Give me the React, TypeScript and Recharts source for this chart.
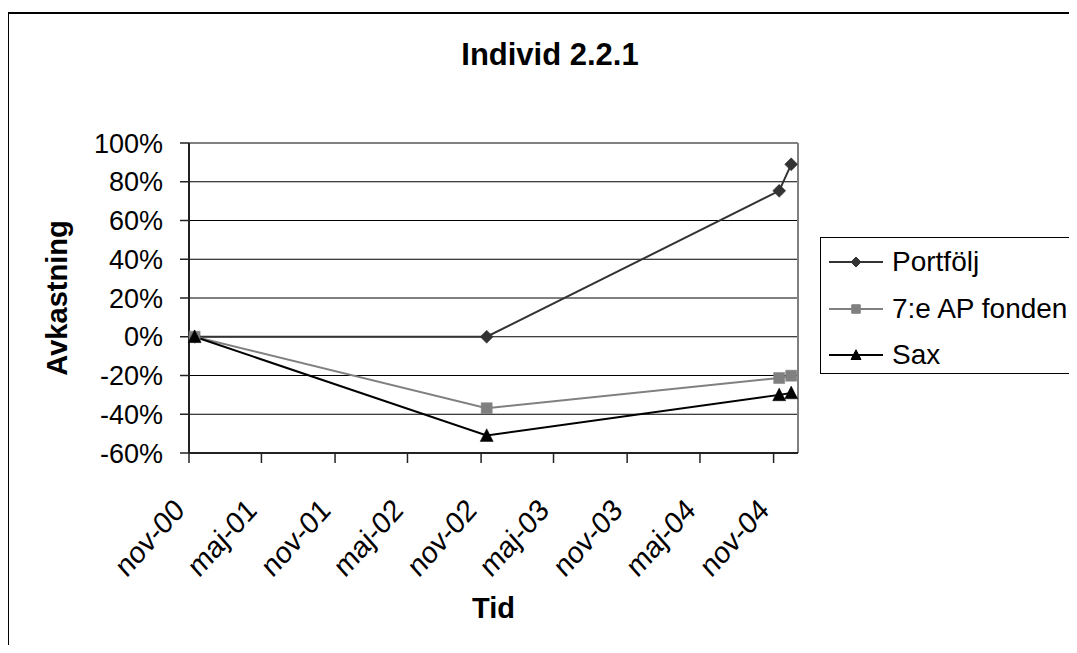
import React from 'react';
import { LineChart, Line, XAxis, YAxis, CartesianGrid, Legend, ReferenceLine } from 'recharts';

const FONT = '"Liberation Sans", Arial, Helvetica, sans-serif';

// Observation dates and series values (returns as fractions)
const DATES = ['2000-11-15', '2002-11-15', '2004-11-15', '2004-12-15'];
const PORTFOLJ = [0, 0, 0.753, 0.89];
const AP7 = [0, -0.369, -0.213, -0.201];
const SAX = [0, -0.51, -0.3, -0.29];

// Axis ticks
const TICK_DATES = [
  '2000-11-01', '2001-05-01', '2001-11-01', '2002-05-01', '2002-11-01',
  '2003-05-01', '2003-11-01', '2004-05-01', '2004-11-01',
];
const TICK_LABELS = ['nov-00', 'maj-01', 'nov-01', 'maj-02', 'nov-02', 'maj-03', 'nov-03', 'maj-04', 'nov-04'];
const X_RANGE = ['2000-11-01', '2005-01-01'];
const Y_TICKS = [-0.6, -0.4, -0.2, 0, 0.2, 0.4, 0.6, 0.8, 1.0];

const SERIES_NAMES = ['Portfölj', '7:e AP fonden', 'Sax'];
const SERIES_KEYS = ['portfolj', 'ap7', 'sax'];
const SERIES_COLORS = ['#333333', '#808080', '#000000'];
const SERIES_MARKERS = ['diamond', 'square', 'triangle'];

const TITLE = 'Individ 2.2.1';
const X_TITLE = 'Tid';
const Y_TITLE = 'Avkastning';

const data = DATES.map((d, i) => ({
  t: Date.parse(d),
  portfolj: PORTFOLJ[i],
  ap7: AP7[i],
  sax: SAX[i],
}));
const tickValues = TICK_DATES.map((d) => Date.parse(d));
const xDomain = X_RANGE.map((d) => Date.parse(d));

function markerPath(kind: string, cx: number, cy: number, s: number) {
  if (kind === 'diamond') {
    return `M${cx},${cy - s}L${cx + s},${cy}L${cx},${cy + s}L${cx - s},${cy}Z`;
  }
  if (kind === 'square') {
    const h = s * 0.85;
    return `M${cx - h},${cy - h}H${cx + h}V${cy + h}H${cx - h}Z`;
  }
  return `M${cx},${cy - s * 1.05}L${cx + s},${cy + s * 0.9}L${cx - s},${cy + s * 0.9}Z`;
}

function makeDot(kind: string, color: string, size: number) {
  return (props: any) => {
    const { cx, cy, index } = props;
    if (cx == null || cy == null) return <g key={`e-${kind}-${index}`} />;
    return <path key={`${kind}-${index}`} d={markerPath(kind, cx, cy, size)} fill={color} stroke={color} strokeWidth={0.5} />;
  };
}

const XTick = (props: any) => {
  const { x, y, payload } = props;
  const idx = tickValues.indexOf(payload.value);
  const label = idx >= 0 ? TICK_LABELS[idx] : '';
  return (
    <g transform={`translate(${x - 3},${y + 49}) scale(1,1.12) rotate(-45)`}>
      <text x={0} y={0} textAnchor="end" fontSize={27.5} fontFamily={FONT} fill="#000">
        {label}
      </text>
    </g>
  );
};

const LegendBox = () => (
  <div
    style={{
      border: '1px solid #000',
      background: '#fff',
      width: 270,
      height: 137,
      boxSizing: 'border-box',
      paddingTop: 1,
      fontFamily: FONT,
    }}
  >
    {SERIES_NAMES.map((name, i) => (
      <div key={name} style={{ display: 'flex', alignItems: 'center', height: 46.5 }}>
        <svg width={54} height={20} style={{ marginLeft: 8, flex: 'none' }}>
          <line x1={0} y1={10} x2={54} y2={10} stroke={SERIES_COLORS[i]} strokeWidth={2} />
          <path d={markerPath(SERIES_MARKERS[i], 27, 10, 5)} fill={SERIES_COLORS[i]} stroke={SERIES_COLORS[i]} />
        </svg>
        <span style={{ marginLeft: 9, fontSize: 28, lineHeight: '28px', color: '#000', whiteSpace: 'nowrap' }}>{name}</span>
      </div>
    ))}
  </div>
);

export default function App() {
  return (
    <div style={{ position: 'relative', width: 1069, height: 637, overflow: 'hidden', background: '#fff' }}>
      <div
        style={{
          position: 'absolute',
          left: -1,
          top: 4,
          width: 1200,
          height: 800,
          border: '2px solid #000',
        }}
      />
      <div
        style={{
          position: 'absolute',
          left: 0,
          top: 30.5,
          width: 1084,
          textAlign: 'center',
          fontFamily: FONT,
          fontWeight: 'bold',
          fontSize: 31,
          lineHeight: '31px',
          color: '#000',
          whiteSpace: 'nowrap',
        }}
      >
        {TITLE}
      </div>
      <div style={{ position: 'absolute', left: 0, top: 0 }}>
        <LineChart
          width={1069}
          height={637}
          data={data}
          margin={{ top: 135, right: 279, left: 20, bottom: 19 }}
        >
          <CartesianGrid horizontal vertical={false} stroke="#000" strokeWidth={1} />
          <XAxis
            dataKey="t"
            type="number"
            domain={xDomain}
            ticks={tickValues}
            interval={0}
            height={173}
            tickSize={10}
            tickMargin={0}
            tick={<XTick />}
            axisLine={{ stroke: '#222', strokeWidth: 2 }}
            tickLine={{ stroke: '#222', strokeWidth: 1.5 }}
            label={{
              value: X_TITLE,
              position: 'insideBottom',
              offset: 8,
              style: { fontFamily: FONT, fontWeight: 'bold', fontSize: 29, fill: '#000' },
            }}
          />
          <YAxis
            type="number"
            domain={[Y_TICKS[0], Y_TICKS[Y_TICKS.length - 1]]}
            ticks={Y_TICKS}
            interval={0}
            width={161}
            tickSize={9}
            tickMargin={17}
            tickFormatter={(v: number) => `${Math.round(v * 100)}%`}
            tick={{ fontSize: 27, fill: '#000', fontFamily: FONT }}
            axisLine={{ stroke: '#222', strokeWidth: 2 }}
            tickLine={{ stroke: '#222', strokeWidth: 1.5 }}
            label={{
              value: Y_TITLE,
              angle: -90,
              position: 'insideLeft',
              offset: 29,
              style: { fontFamily: FONT, fontWeight: 'bold', fontSize: 29, fill: '#000', textAnchor: 'middle' },
            }}
          />
          <ReferenceLine y={Y_TICKS[Y_TICKS.length - 1]} stroke="#808080" strokeWidth={2} />
          <ReferenceLine x={xDomain[1]} stroke="#808080" strokeWidth={2} />
          {SERIES_KEYS.map((k, i) => (
            <Line
              key={k}
              type="linear"
              dataKey={k}
              name={SERIES_NAMES[i]}
              stroke={SERIES_COLORS[i]}
              strokeWidth={2}
              dot={makeDot(SERIES_MARKERS[i], SERIES_COLORS[i], 6.5)}
              activeDot={false}
              isAnimationActive={false}
            />
          ))}
          <Legend
            layout="vertical"
            align="center"
            verticalAlign="middle"
            content={() => <LegendBox />}
            wrapperStyle={{ left: 812, top: 229, width: 270, height: 137 }}
          />
        </LineChart>
      </div>
    </div>
  );
}
